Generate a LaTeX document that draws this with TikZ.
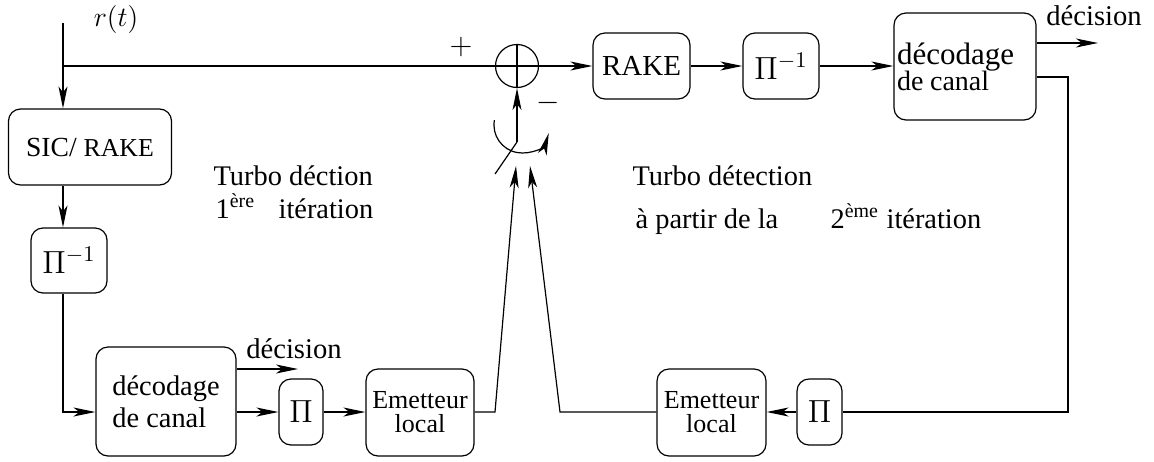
\RequirePackage{fix-cm}
\documentclass[tikz,border=0pt]{standalone}
\usepackage{fontspec}
\setmainfont{Liberation Serif}
\usetikzlibrary{arrows.meta}
\tikzset{
  blk/.style={draw, rounded corners=6pt, inner sep=0pt, align=center},
  txt/.style={inner sep=0pt, font=\fontsize{14.2}{16}\selectfont},
  lbl/.style={inner sep=0pt, font=\fontsize{14.3}{16}\selectfont},
  pibox/.style={blk, font=\fontsize{16}{18}\selectfont},
  emit/.style={blk, minimum height=43.5pt, font=\fontsize{13}{12}\selectfont},
  sign/.style={inner sep=0pt, font=\fontsize{15}{16}\selectfont},
}
\begin{document}
\begin{tikzpicture}[x=0.5pt,y=-0.5pt,line width=0.6pt,
  >={Stealth[length=11pt,width=4.5pt,inset=3pt]}]
\useasboundingbox (0,0) rectangle (1154,461);

% first iteration chain (left column and bottom row)
\node[blk, minimum width=81.5pt, minimum height=38pt] (sic) at (90,147)
  {\fontsize{13.8}{15}\selectfont SIC/ \fontsize{12.9}{15}\selectfont RAKE};
\node[pibox, minimum width=38pt, minimum height=32.5pt] (pinv1) at (69,260.5) {$\Pi^{-1}$};
\node[blk, minimum width=70pt, minimum height=54.5pt,
  font=\fontsize{14.2}{16}\selectfont, align=left] (dec1) at (166,401.5) {décodage\\de canal};
\node[pibox, minimum width=22pt, minimum height=33pt] (pi1) at (301,412) {$\Pi$};
\node[emit, minimum width=54pt] (em1) at (420,412.5) {Emetteur\\local};

% second-iteration chain (top row and bottom right)
\node[draw, circle, minimum size=21.5pt, inner sep=0pt] (sum) at (517,66) {};
\node[blk, minimum width=48.5pt, minimum height=33pt,
  font=\fontsize{14.5}{16}\selectfont] (rake) at (641.5,66) {RAKE};
\node[pibox, minimum width=38pt, minimum height=33pt] (pinv2) at (781,66) {$\Pi^{-1}$};
\node[blk, minimum height=53.5pt, text width=68pt, inner xsep=1.5pt, align=left]
  (dec2) at (965,66.5)
  {{\fontsize{15.5}{16}\selectfont décodage}\\[-1pt]{\fontsize{14}{16}\selectfont de canal}};
\node[pibox, minimum width=22.5pt, minimum height=33pt] (pi2) at (819.5,412) {$\Pi$};
\node[emit, minimum width=54.5pt] (em2) at (711.5,412.5) {Emetteur\\local};

% labels
\node[inner sep=0pt, font=\fontsize{14}{16}\selectfont] (rt) at (116,19) {$r(t)$};
\node[sign] (plus) at (461,47) {$+$};
\node[sign] (minus) at (548,103) {$-$};
\node[lbl, anchor=base] (dlab1) at (294,358) {décision};
\node[lbl, anchor=base] (dlab2) at (1094,25) {décision};
\node[txt, anchor=base west] (ta1) at (213,185) {Turbo déction};
\node[txt, anchor=base west] (ta2) at (215,218) {1\textsuperscript{ère}};
\node[txt, anchor=base west] (ta3) at (278,218) {itération};
\node[txt, anchor=base west] (tb1) at (632,185) {Turbo détection};
\node[txt, anchor=base west] (tb2) at (635,228) {à partir de la};
\node[txt, anchor=base west] (tb3) at (830,228) {2\textsuperscript{ème}};
\node[txt, anchor=base west] (tb4) at (886,228) {itération};

% free ends and bends
\coordinate (rin) at (63,23);
\coordinate (junc) at (63,66);
\coordinate (d1out) at (298,369);
\coordinate (d2out) at (1098,43);
\coordinate (fb) at (1068,77);
\coordinate (b1) at (495,412);
\coordinate (tip1) at (516,166);
\coordinate (b2) at (560,412);
\coordinate (tip2) at (530,166);
\coordinate (pivot) at (517,142);
\coordinate (blade) at (495,174);
\coordinate (arcbeg) at (494.4,120.1);

% input and direct path
\draw[->] (rin) -- (rin |- sic.north);
\draw (junc) -- (sum.west);
\draw (sum.west) -- (sum.east) (sum.north) -- (sum.south);
\draw[->] (sum.east) -- (rake.west);
\draw[->] (rake.east) -- (pinv2.west);
\draw[->] (pinv2.east) -- (dec2.west |- pinv2);
\draw[->] (dec2.east |- d2out) -- (d2out);
\draw (dec2.east |- fb) -- (fb) |- (pi2.east);
\draw[->] (pi2.west) -- (em2.east |- pi2);
\draw[->] (em2.west |- b2) -- (b2) -- (tip2);

% first iteration path
\draw[->] (sic.south -| rin) -- (pinv1.north -| rin);
\draw[->] (pinv1.south -| rin) |- (dec1.west |- pi1);
\draw[->] (dec1.east |- d1out) -- (d1out);
\draw[->] (dec1.east |- pi1) -- (pi1.west);
\draw[->] (pi1.east) -- (em1.west |- pi1);
\draw[->] (em1.east |- b1) -- (b1) -- (tip1);

% switch
\draw[->] (pivot) -- (sum.south);
\draw (blade) -- (pivot);
\draw[->] (arcbeg) arc[start angle=190,end angle=17,radius=28];
\end{tikzpicture}
\end{document}
